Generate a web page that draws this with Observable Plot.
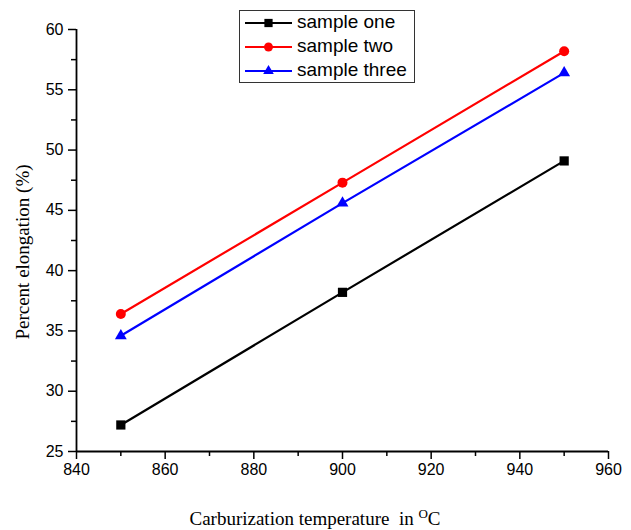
<!DOCTYPE html>
<html><head><meta charset="utf-8">
<script src="https://cdn.jsdelivr.net/npm/d3@7"></script>
<script src="https://cdn.jsdelivr.net/npm/@observablehq/plot@0.6"></script>
<style>body{margin:0;background:#fff} #chart{position:relative;width:631px;height:530px}</style>
</head><body><div id="chart"></div>
<script>
const temperatures = [850, 900, 950];
const sampleOne = [27.2, 38.2, 49.1];
const sampleTwo = [36.4, 47.3, 58.2];
const sampleThree = [34.6, 45.6, 56.4];
const seriesNames = ["sample one", "sample two", "sample three"];
const seriesColors = ["#000000", "#ff0000", "#0000ff"];
const seriesSymbols = ["square", "circle", "triangle"];
const seriesRadius = [5.2, 5, 4.4];
const xTicks = [840, 860, 880, 900, 920, 940, 960];
const xMinorTicks = [850, 870, 890, 910, 930, 950];
const yTicks = [25, 30, 35, 40, 45, 50, 55, 60];
const yMinorTicks = [27.5, 32.5, 37.5, 42.5, 47.5, 52.5, 57.5];
const xLabel = "Carburization temperature\u00a0 in ";
const yLabel = "Percent elongation (%)";

const seriesValues = [sampleOne, sampleTwo, sampleThree];
const data = seriesNames.flatMap((name, i) =>
  temperatures.map((t, j) => ({series: name, temp: t, value: seriesValues[i][j]})));

const dotMarks = seriesNames.map((name, i) =>
  Plot.dot(data.filter(d => d.series === name), {
    x: "temp", y: "value", symbol: () => seriesSymbols[i], fill: seriesColors[i], stroke: "none", r: seriesRadius[i]
  }));

const plot = Plot.plot({
  width: 631, height: 530,
  marginLeft: 76, marginRight: 23, marginTop: 29, marginBottom: 79,
  style: {fontFamily: "Liberation Sans, Arial, sans-serif", fontSize: "16px", color: "black", background: "white"},
  x: {domain: [840, 960]},
  y: {domain: [25, 60]},
  symbol: {type: "identity"},
  marks: [
    Plot.axisX({ticks: xTicks, tickSize: 8, tickPadding: 4, fontSize: 16, tickFormat: d => String(d), label: null, stroke: "black", strokeWidth: 1.5}),
    Plot.axisX({ticks: xMinorTicks, tickSize: 5, tickFormat: () => "", label: null, stroke: "black", strokeWidth: 1.5}),
    Plot.axisY({ticks: yTicks, tickSize: 8, tickPadding: 5, fontSize: 16, tickFormat: d => String(d), label: null, stroke: "black", strokeWidth: 1.5}),
    Plot.axisY({ticks: yMinorTicks, tickSize: 5, tickFormat: () => "", label: null, stroke: "black", strokeWidth: 1.5}),
    Plot.ruleX([840], {stroke: "black", strokeWidth: 1.8}),
    Plot.ruleY([25], {stroke: "black", strokeWidth: 1.8}),
    Plot.line(data, {x: "temp", y: "value", z: "series", stroke: d => seriesColors[seriesNames.indexOf(d.series)], strokeWidth: 2.2}),
    ...dotMarks
  ]
});

document.getElementById("chart").appendChild(plot);
const svg = d3.select(plot);

// Axis titles
svg.append("text")
  .attr("transform", "translate(25,252) rotate(-90)")
  .attr("text-anchor", "middle").attr("dominant-baseline", "middle")
  .style("font-family", "Liberation Serif, Times New Roman, serif").style("font-size", "19px")
  .text(yLabel);
const xt = svg.append("text")
  .attr("x", 315).attr("y", 525).attr("text-anchor", "middle")
  .style("font-family", "Liberation Serif, Times New Roman, serif").style("font-size", "19px");
xt.append("tspan").text(xLabel);
xt.append("tspan").attr("dy", "-7").style("font-size", "13px").text("O");
xt.append("tspan").attr("dy", "7").text("C");

// Legend
const lg = svg.append("g");
lg.append("rect").attr("x", 239.5).attr("y", 10.5).attr("width", 175).attr("height", 72)
  .attr("fill", "white").attr("stroke", "#333").attr("stroke-width", 1);
seriesNames.forEach((name, i) => {
  const y = 23 + i * 24;
  lg.append("line").attr("x1", 245).attr("x2", 292).attr("y1", y).attr("y2", y)
    .attr("stroke", seriesColors[i]).attr("stroke-width", 2.2);
  lg.append("path").attr("transform", `translate(268.5,${y})`)
    .attr("d", d3.symbol(d3["symbol" + seriesSymbols[i][0].toUpperCase() + seriesSymbols[i].slice(1)], Math.PI * seriesRadius[i] ** 2 * 0.8)())
    .attr("fill", seriesColors[i]);
  lg.append("text").attr("x", 297).attr("y", y).attr("dominant-baseline", "middle")
    .attr("text-anchor", "start")
    .style("font-family", "Liberation Sans, Arial, sans-serif").style("font-size", "19px")
    .text(name);
});
</script></body></html>
